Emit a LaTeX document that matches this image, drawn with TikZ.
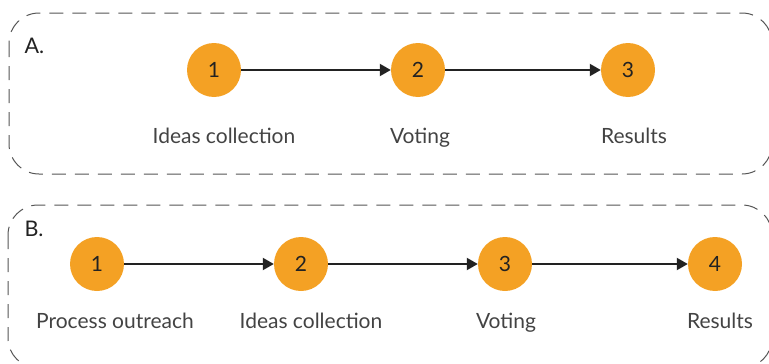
\documentclass[tikz,border=0pt]{standalone}
\usepackage{fontspec}
\setmainfont{Lato}
\usetikzlibrary{arrows.meta}
\definecolor{orng}{HTML}{F4A124}
\definecolor{ink}{HTML}{222222}
\definecolor{frame}{HTML}{555555}
\begin{document}
\begin{tikzpicture}[x=1pt,y=-1pt,
  stepcirc/.style={circle,fill=orng,minimum size=54pt,inner sep=0pt,font=\fontsize{21}{21}\selectfont,text=ink},
  steplabel/.style={anchor=base,font=\fontsize{21}{21}\selectfont,text=ink!85},
  panellabel/.style={anchor=base west,font=\fontsize{21.5}{21.5}\selectfont,text=ink},
  flow/.style={draw=ink,line width=2pt,-{Triangle[length=11pt,width=12pt]}},
  panel/.style={draw=frame,line width=1pt,dash pattern=on 14pt off 9pt,rounded corners=30pt}]
\useasboundingbox (0,0) rectangle (769,364);
% panels
\draw[panel] (9,13) rectangle (772,174);
\draw[panel] (8,205) rectangle (772,368);
% panel A
\node[panellabel] (la) at (21,53) {A.};
\node[stepcirc] (a1) at (214,70) {1};
\node[stepcirc] (a2) at (418,70) {2};
\node[stepcirc] (a3) at (628,70) {3};
\node[steplabel] (ta1) at (224,143) {Ideas collection};
\node[steplabel] (ta2) at (420,143) {Voting};
\node[steplabel] (ta3) at (634,143) {Results};
\draw[flow] (a1) -- (a2);
\draw[flow] (a2) -- (a3);
% panel B
\node[panellabel] (lb) at (21,236) {B.};
\node[stepcirc] (b1) at (97,264) {1};
\node[stepcirc] (b2) at (301,264) {2};
\node[stepcirc] (b3) at (505,264) {3};
\node[stepcirc] (b4) at (715,264) {4};
\node[steplabel] (tb1) at (115,328) {Process outreach};
\node[steplabel] (tb2) at (311,328) {Ideas collection};
\node[steplabel] (tb3) at (506,328) {Voting};
\node[steplabel] (tb4) at (720,328) {Results};
\draw[flow] (b1) -- (b2);
\draw[flow] (b2) -- (b3);
\draw[flow] (b3) -- (b4);
\end{tikzpicture}
\end{document}
